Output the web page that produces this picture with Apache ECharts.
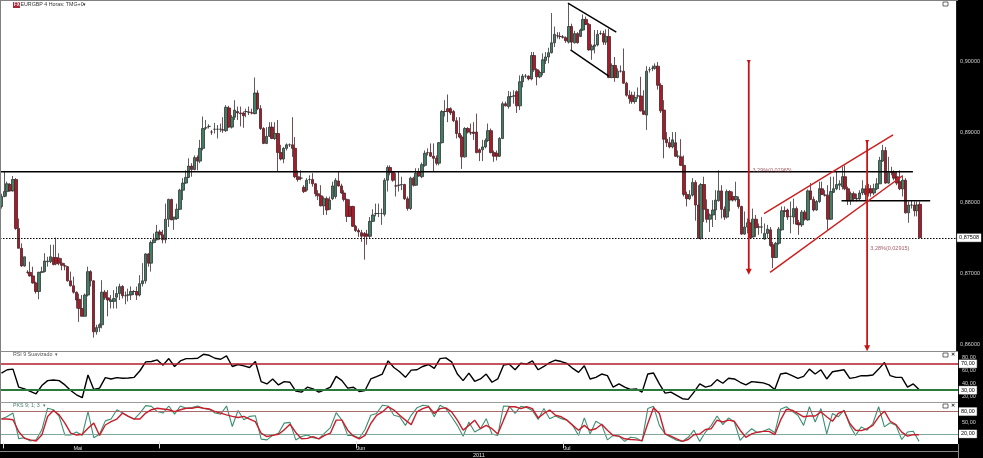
<!DOCTYPE html>
<html><head><meta charset="utf-8">
<style>html,body{margin:0;padding:0;background:#000}#c{width:983px;height:458px}</style>
<script src="https://cdn.jsdelivr.net/npm/echarts@6/dist/echarts.min.js"></script>
</head><body><div id="c"></div>
<script>
// EUR/GBP 4h candles: [open, close, low, high] in 1/10000 of a pound
const ohlc = [
[8795,8809,8792,8813],[8809,8816,8808,8844],[8816,8827,8809,8830],[8826,8817,8816,8828],[8817,8833,8816,8838],[8833,8764,8762,8835],[8764,8736,8736,8778],[8736,8711,8710,8743],[8711,8724,8710,8724],[8702,8702,8700,8705],
[8702,8697,8696,8717],[8697,8687,8686,8710],[8687,8675,8672,8689],[8675,8702,8664,8703],[8702,8703,8701,8710],[8703,8718,8702,8729],[8717,8718,8710,8724],[8717,8724,8715,8741],[8723,8713,8712,8741],[8723,8714,8712,8751],
[8722,8715,8712,8729],[8715,8712,8705,8722],[8711,8711,8705,8715],[8710,8690,8689,8711],[8690,8683,8682,8703],[8683,8674,8672,8696],[8674,8663,8651,8675],[8664,8651,8632,8672],[8651,8640,8640,8670],[8640,8670,8640,8672],
[8670,8703,8668,8710],[8703,8690,8682,8705],[8690,8618,8610,8691],[8618,8624,8614,8628],[8624,8628,8618,8630],[8628,8674,8623,8691],[8674,8666,8663,8677],[8666,8663,8640,8677],[8661,8663,8651,8670],[8661,8665,8651,8677],
[8667,8672,8651,8682],[8672,8682,8663,8686],[8682,8669,8665,8684],[8669,8669,8657,8675],[8670,8670,8661,8679],[8670,8675,8663,8682],[8675,8675,8670,8677],[8675,8670,8663,8682],[8670,8686,8668,8698],[8686,8690,8682,8715],
[8690,8728,8686,8729],[8728,8715,8710,8729],[8715,8744,8703,8747],[8744,8748,8743,8757],[8748,8759,8747,8769],[8759,8755,8748,8762],[8755,8748,8743,8762],[8748,8777,8743,8799],[8777,8805,8766,8806],[8805,8776,8776,8806],
[8777,8780,8762,8780],[8778,8791,8776,8799],[8791,8818,8790,8820],[8818,8828,8804,8835],[8828,8836,8827,8846],[8836,8852,8835,8863],[8852,8847,8837,8856],[8847,8864,8846,8867],[8864,8859,8846,8867],[8859,8877,8856,8889],
[8877,8905,8874,8922],[8906,8906,8903,8917],[8908,8908,8905,8911],[8900,8900,8896,8903],[8904,8904,8898,8913],[8904,8904,8891,8910],[8904,8904,8900,8912],[8903,8903,8899,8921],[8902,8935,8900,8938],[8934,8907,8906,8937],
[8907,8921,8905,8924],[8921,8931,8917,8945],[8929,8927,8917,8936],[8927,8926,8908,8936],[8927,8923,8906,8929],[8929,8929,8921,8933],[8928,8928,8924,8936],[8927,8927,8925,8933],[8926,8955,8925,8977],[8955,8933,8931,8959],
[8933,8905,8903,8938],[8905,8884,8883,8907],[8884,8894,8883,8907],[8894,8907,8893,8914],[8907,8891,8890,8914],[8891,8898,8889,8914],[8898,8871,8845,8917],[8871,8862,8860,8882],[8862,8877,8856,8879],[8877,8882,8874,8884],
[8882,8882,8879,8884],[8882,8877,8865,8921],[8877,8837,8835,8893],[8837,8833,8830,8846],[8835,8835,8832,8846],[8822,8816,8814,8825],[8818,8832,8816,8835],[8833,8833,8827,8839],[8833,8827,8823,8842],[8827,8813,8809,8828],
[8813,8810,8804,8818],[8810,8796,8795,8825],[8796,8806,8783,8809],[8806,8790,8783,8809],[8791,8804,8790,8809],[8806,8824,8804,8830],[8809,8832,8806,8835],[8831,8824,8823,8844],[8824,8814,8813,8827],[8814,8805,8802,8818],
[8805,8781,8773,8806],[8795,8781,8780,8805],[8795,8767,8766,8796],[8767,8761,8759,8769],[8761,8759,8752,8764],[8758,8753,8745,8762],[8757,8753,8720,8759],[8756,8753,8741,8762],[8753,8774,8749,8780],[8774,8783,8773,8791],
[8785,8785,8781,8799],[8785,8785,8780,8799],[8785,8785,8769,8792],[8784,8832,8781,8835],[8832,8850,8816,8853],[8850,8843,8839,8853],[8843,8832,8830,8844],[8824,8824,8809,8842],[8825,8825,8816,8844],[8826,8826,8818,8837],
[8826,8806,8804,8827],[8806,8792,8789,8809],[8792,8835,8790,8837],[8835,8825,8823,8837],[8825,8842,8824,8849],[8844,8838,8837,8849],[8837,8854,8835,8857],[8853,8870,8851,8874],[8871,8871,8867,8877],[8871,8866,8865,8884],
[8866,8863,8845,8884],[8863,8856,8853,8867],[8856,8885,8853,8886],[8885,8929,8884,8931],[8929,8929,8922,8945],[8933,8929,8914,8953],[8933,8927,8924,8935],[8929,8916,8914,8931],[8916,8898,8891,8921],[8898,8893,8891,8921],
[8893,8865,8848,8896],[8865,8905,8864,8907],[8905,8900,8898,8907],[8899,8899,8896,8912],[8900,8898,8889,8914],[8900,8871,8870,8926],[8875,8871,8859,8877],[8875,8879,8859,8889],[8879,8888,8877,8891],[8888,8902,8886,8912],
[8902,8871,8870,8905],[8871,8866,8858,8874],[8870,8866,8860,8874],[8866,8891,8865,8893],[8891,8940,8890,8943],[8940,8937,8936,8943],[8936,8950,8933,8958],[8950,8950,8936,8957],[8951,8951,8940,8959],[8957,8937,8927,8959],
[8937,8971,8931,8980],[8971,8979,8963,8982],[8979,8979,8976,8982],[8979,8975,8973,8980],[8975,9008,8973,9013],[9008,8988,8985,9013],[8988,8978,8966,8990],[8978,8984,8976,8987],[8984,9002,8980,9011],[9001,9006,8996,9013],
[9006,9012,8997,9019],[9012,9026,9011,9068],[9026,9038,9020,9049],[9036,9036,9032,9041],[9035,9035,9031,9041],[9034,9034,9032,9037],[9033,9029,9026,9035],[9027,9049,9025,9082],[9049,9027,9016,9053],[9026,9039,9025,9043],
[9039,9026,9025,9041],[9035,9044,9034,9046],[9044,9059,9043,9066],[9059,9052,9051,9063],[9052,9016,9015,9054],[9016,9021,9002,9024],[9021,9023,9011,9044],[9023,9038,9021,9044],[9039,9039,9037,9043],[9039,9027,9023,9043],
[9027,9035,9023,9045],[9035,8977,8976,9046],[8977,8994,8976,8997],[8994,8977,8971,9006],[8977,8986,8976,8990],[8986,8986,8984,8994],[8986,8969,8968,9018],[8969,8952,8950,8971],[8952,8947,8940,8959],[8952,8943,8940,8957],
[8943,8949,8940,8957],[8951,8951,8947,8963],[8951,8930,8929,8978],[8930,8925,8924,8959],[8924,8986,8903,8993],[8988,8988,8984,8992],[8990,8990,8986,8994],[8990,8993,8988,8997],[8993,8966,8960,8999],[8966,8930,8927,8969],
[8931,8890,8863,8945],[8890,8885,8879,8900],[8885,8879,8877,8893],[8879,8889,8877,8900],[8885,8866,8865,8900],[8866,8866,8863,8874],[8865,8853,8852,8890],[8853,8812,8809,8867],[8812,8806,8795,8816],[8806,8811,8804,8818],
[8811,8829,8809,8835],[8829,8797,8775,8832],[8797,8750,8750,8825],[8750,8826,8748,8828],[8826,8791,8773,8837],[8791,8777,8772,8805],[8777,8783,8759,8785],[8783,8790,8766,8804],[8790,8804,8776,8818],[8803,8817,8802,8846],
[8817,8791,8778,8825],[8791,8780,8776,8795],[8780,8816,8778,8819],[8816,8804,8788,8818],[8809,8804,8802,8816],[8805,8809,8802,8830],[8805,8795,8792,8809],[8795,8756,8755,8796],[8756,8766,8755,8788],[8766,8772,8757,8778],
[8772,8751,8750,8776],[8752,8777,8751,8792],[8777,8765,8752,8783],[8766,8766,8755,8771],[8766,8766,8757,8780],[8749,8757,8748,8771],[8757,8763,8750,8769],[8762,8740,8738,8766],[8741,8723,8708,8745],[8723,8743,8722,8745],
[8743,8763,8741,8766],[8762,8789,8761,8795],[8789,8788,8780,8795],[8790,8780,8776,8792],[8781,8781,8757,8802],[8780,8792,8770,8806],[8792,8770,8769,8795],[8772,8769,8755,8776],[8769,8787,8766,8790],[8787,8777,8775,8790],
[8776,8817,8775,8819],[8817,8805,8804,8828],[8805,8790,8788,8809],[8790,8802,8789,8804],[8802,8820,8800,8830],[8820,8812,8811,8830],[8811,8811,8809,8818],[8811,8777,8762,8825],[8777,8816,8776,8837],[8815,8820,8814,8837],
[8820,8826,8818,8844],[8825,8827,8818,8832],[8823,8837,8819,8851],[8837,8820,8818,8853],[8820,8803,8797,8823],[8803,8813,8797,8816],[8813,8806,8802,8816],[8806,8806,8802,8813],[8806,8814,8804,8818],[8814,8820,8811,8832],
[8820,8812,8804,8825],[8820,8814,8809,8827],[8820,8814,8809,8825],[8814,8820,8811,8827],[8820,8827,8818,8835],[8827,8860,8827,8865],[8859,8874,8858,8882],[8874,8828,8827,8879],[8828,8843,8827,8865],[8843,8843,8839,8851],
[8843,8835,8832,8846],[8837,8828,8825,8844],[8830,8820,8818,8846],[8820,8832,8809,8839],[8832,8786,8785,8835],[8786,8797,8772,8802],[8797,8797,8792,8804],[8797,8789,8781,8802],[8789,8797,8781,8802],[8798,8751,8751,8802]
];
// indicators read every second bar
const sampleStep = 2;
const rsi = [56,61,62,34.5,32,28,24.5,37,44.5,45.5,44.5,38,29.5,23,18.5,53,31,33,49,47,49,48,48.5,49.5,59.5,73,73.5,76,68,78,66,74.5,78,78,78.5,84.5,83,78.5,77,82,66,69,67,64.5,73.5,43,39.5,47,38,43,42,28.5,27,34.5,32,27,30.5,34.5,
51,44.5,33,34.5,28,29.5,47,50.5,54.5,74.5,64.5,58,49.5,60.5,61,66,69,63,78,79,73,54.5,44.5,56,43.5,47,54.5,42,47,68,69.5,61,71,69.5,74.5,61,66,72,75.5,73.5,70.5,63,57,67,47,49.5,54.5,52,34.5,39.5,34.5,31,32,27,54.5,56,39.5,
25.5,27,22,17,16,27,39.5,34.5,37,46,40.5,48,47,42,38,43,42,41,38,31,54.5,56,52,48,51,62,54.5,61,47,58,59.5,61,48,49.5,52,52,53,62,72,52,49.5,49.5,34.5,39.5,31];
const stochK = [60,67,76,7,10,1,4,31,89,85,67,17,17,25,16,80,10,19,55,60,85,76,67,60,76,96,94,80,76,95,73,95,89,91,95,89,86,76,73,95,40,83,58,67,69,6,4,16,22,49,51,4,13,17,10,7,22,37,
77,57,16,16,9,32,70,75,97,95,70,66,43,70,90,97,95,66,97,88,66,43,14,52,25,34,61,20,16,95,94,75,94,91,83,59,88,61,68,61,57,43,16,63,20,54,45,4,16,14,0,11,9,0,88,94,43,
20,11,3,0,11,30,0,25,43,68,45,63,52,3,20,34,23,27,34,23,86,93,81,70,43,93,52,88,20,75,66,84,43,16,39,30,48,93,39,50,43,5,25,27,0];
const stochD = [60,60,58,26,8,4,1,17,67,83,71,49,22,17,19,35,49,16,44,53,60,76,67,60,60,76,85,89,87,85,80,85,89,89,92,89,87,80,76,71,67,64,67,60,53,22,13,16,19,31,46,24,7,8,13,7,16,22,
57,57,30,14,7,16,48,70,79,93,84,70,57,45,79,88,93,75,88,90,79,57,30,43,57,34,43,34,20,57,93,93,88,93,88,63,75,84,70,66,57,43,30,43,30,34,46,30,16,14,7,5,4,2,48,90,75,
20,14,7,0,5,18,20,32,34,57,52,57,54,30,11,20,25,27,27,18,57,86,84,75,66,68,68,79,66,54,75,82,48,30,29,34,43,66,81,54,45,25,14,18,18];
const rsiLevels = [70, 30], stochLevels = [80, 20];
const lastPrice = 0.87508;
const priceTicks = [0.90, 0.89, 0.88, 0.87, 0.86];
const rsiTicks = [80, 60, 40, 20], stochTicks = [50];
const monthLabels = ['Mai', 'Jun', 'Jul'], monthLabelBars = [26.5, 124.6, 196], monthTickBars = [0.5, 54.6, 123, 194.6];
const barSlots = 332;
// drawn annotations, as [bar, price]
const resistance = [[-0.5,0.8844],[316.5,0.8844]];
const supportShort = [[291.7,0.8803],[322.5,0.8803]];
const flagTop = [[196.7,0.9082],[213.5,0.9041]], flagBottom = [[197.6,0.9016],[210.9,0.8979]];
const channelTop = [[264.8,0.8785],[309.6,0.8896]], channelBottom = [[266.9,0.8702],[312.8,0.8838]];
const moveA = [[259.5,0.8999],[259.5,0.8703]], moveB = [[300.6,0.8886],[300.6,0.8595]];
const moveNotes = [[260.8,0.8846,'3,29%(0,02965)'],[301.7,0.8735,'3,28%(0,02915)']];

const FONT = '"Liberation Sans",Arial,sans-serif';
const comma = (v, d) => v.toFixed(d).replace('.', ',');
const sampled = a => a.map((v, i) => [i * sampleStep, v]);
const GRID_W = 958;
const hiddenX = g => ({type:'value', gridIndex:g, min:-0.5, max:barSlots-0.5, show:false});
const line = (data, color, width) => ({type:'line', xAxisIndex:1, yAxisIndex:0, data, symbol:'none', silent:true, z:5,
  lineStyle:{color, width}});
const arrow = (pts, color) => ({type:'line', xAxisIndex:1, yAxisIndex:0, silent:true, z:6, showSymbol:true, lineStyle:{color, width:1.8},
  itemStyle:{color},
  data:[{value:pts[0],symbol:'triangle',symbolRotate:180,symbolSize:4},{value:pts[1],symbol:'triangle',symbolRotate:180,symbolSize:6}]});
const tag = (color) => ({show:true, position:'end', distance:1, color:'#000', backgroundColor:'#fff', borderColor:'#555', borderWidth:0.5,
  padding:[1,2], fontSize:5.5, fontFamily:FONT});
const levelLines = (levels, colors, widths, fmt) => ({silent:true, symbol:'none', animation:false,
  data:levels.map((v,i)=>({yAxis:v, lineStyle:{color:colors[i], width:widths[i], type:'solid'},
    label:Object.assign(tag(), {formatter:fmt(v)})}))});
const axisText = {color:'#d0d0d0', fontSize:5.5, fontFamily:FONT, margin:4};

const resistanceSeries = line(resistance,'#000',1.6);
resistanceSeries.markLine = {silent:true, symbol:'none', precision:5, data:[{yAxis:lastPrice, lineStyle:{color:'#000', width:1, type:[1.5,1.5]},
  label:Object.assign(tag(),{formatter:comma(lastPrice,5)})}]};

const chart = echarts.init(document.getElementById('c'), null, {renderer:'canvas'});
chart.setOption({
  animation:false, backgroundColor:'#000',
  grid:[
    {left:0, top:1, width:GRID_W, height:350, show:true, backgroundColor:'#fff', borderWidth:0},
    {left:0, top:352, width:GRID_W, height:50, show:true, backgroundColor:'#fff', borderWidth:0},
    {left:0, top:403, width:GRID_W, height:41, show:true, backgroundColor:'#fff', borderWidth:0}
  ],
  xAxis:[
    {type:'category', gridIndex:0, data:Array.from({length:barSlots},(_,i)=>String(i)), show:false},
    hiddenX(0), hiddenX(1),
    {type:'value', gridIndex:2, min:-0.5, max:barSlots-0.5, position:'bottom', splitLine:{show:false}, axisLine:{show:false},
     axisTick:{show:true, length:7, customValues:monthTickBars, lineStyle:{color:'#ddd', width:1}},
     axisLabel:{show:true, customValues:monthLabelBars, color:'#e0e0e0', fontSize:5.5, fontFamily:FONT, margin:1,
       formatter:v=>monthLabels[monthLabelBars.indexOf(v)]}}
  ],
  yAxis:[
    {type:'value', gridIndex:0, position:'right', min:0.8591, max:0.9085, scale:true, splitLine:{show:false}, axisLine:{show:false}, axisTick:{show:false},
     axisLabel:Object.assign({customValues:priceTicks, formatter:v=>comma(v,5)}, axisText)},
    {type:'value', gridIndex:1, position:'right', min:12, max:88, splitLine:{show:false}, axisLine:{show:false}, axisTick:{show:false},
     axisLabel:Object.assign({customValues:rsiTicks, formatter:v=>comma(v,2)}, axisText)},
    {type:'value', gridIndex:2, position:'right', min:-7, max:103, splitLine:{show:false}, axisLine:{show:false}, axisTick:{show:false},
     axisLabel:Object.assign({customValues:stochTicks, formatter:v=>comma(v,2)}, axisText)}
  ],
  series:[
    {type:'candlestick', xAxisIndex:0, yAxisIndex:0, barWidth:3, silent:true, z:3,
     data:ohlc.map(r=>r.map(v=>v/10000)),
     itemStyle:{color:'#3f7f66', color0:'#a81c2a', borderColor:'#333', borderColor0:'#4a2228', borderWidth:0.8}},
    resistanceSeries, line(supportShort,'#000',1.6),
    line(flagTop,'#000',1.4), line(flagBottom,'#000',1.4),
    line(channelTop,'#cc1f1f',1.5), line(channelBottom,'#cc1f1f',1.5),
    arrow(moveA,'#c81414'), arrow(moveB,'#c81414'),
    {type:'scatter', xAxisIndex:1, yAxisIndex:0, silent:true, symbolSize:0, z:7,
     data:moveNotes.map(n=>({value:[n[0],n[1]], label:{show:true, position:'right', distance:0, formatter:n[2], color:'#8a3340', fontSize:5.5, fontFamily:FONT}}))},
    {type:'line', xAxisIndex:2, yAxisIndex:1, data:sampled(rsi), symbol:'none', silent:true, z:4, lineStyle:{color:'#000', width:1.4},
     markLine:levelLines(rsiLevels,['#b01c28','#2b7a3c'],[1.5,2],v=>comma(v,2))},
    {type:'line', xAxisIndex:3, yAxisIndex:2, data:sampled(stochK), symbol:'none', silent:true, z:4, lineStyle:{color:'#3d8f72', width:1.1},
     markLine:levelLines(stochLevels,['#a86a6a','#7fa898'],[1,1],v=>comma(v,2))},
    {type:'line', xAxisIndex:3, yAxisIndex:2, data:sampled(stochD), symbol:'none', silent:true, z:5, lineStyle:{color:'#c81e2c', width:1.4}}
  ],
  graphic:[
    {type:'rect', shape:{x:0,y:0,width:GRID_W,height:1}, style:{fill:'#808080'}, z:50},
    {type:'rect', shape:{x:0,y:0,width:1,height:444}, style:{fill:'#808080'}, z:50},
    {type:'rect', shape:{x:0,y:351,width:GRID_W,height:1}, style:{fill:'#8a8a8a'}, z:50},
    {type:'rect', shape:{x:0,y:402,width:GRID_W,height:1}, style:{fill:'#9a9a9a'}, z:50},
    {type:'rect', shape:{x:0,y:451,width:GRID_W,height:1}, style:{fill:'#8a8a8a'}, z:50},
    {type:'rect', shape:{x:958,y:444,width:1,height:14}, style:{fill:'#8a8a8a'}, z:50},
    {type:'rect', shape:{x:13,y:2,width:7,height:6}, style:{fill:'#a8283a'}, z:50},
    {type:'text', style:{x:14,y:2.5,text:'FX',fill:'#fff',font:'bold 4.5px '+FONT}, z:51},
    {type:'text', style:{x:20.5,y:2.5,text:'EURGBP 4 Horas: TMG+0',fill:'#333',font:'5.3px '+FONT}, z:51},
    {type:'text', style:{x:83,y:2,text:'▾',fill:'#333',font:'5px '+FONT}, z:51},
    {type:'text', style:{x:13,y:352.5,text:'RSI 9 Suavizado  ▾',fill:'#555',font:'5.3px '+FONT}, z:51},
    {type:'text', style:{x:13,y:403.5,text:'PKS 9; 1; 3  ▾',fill:'#4a7f6a',font:'5.3px '+FONT}, z:51},
    {type:'text', style:{x:473,y:452,text:'2011',fill:'#e0e0e0',font:'5.5px '+FONT}, z:51},
    ...[[943,2],[943,353],[943,404]].map(p=>({type:'rect', shape:{x:p[0],y:p[1],width:5,height:4}, style:{fill:'#fff',stroke:'#444',lineWidth:0.8}, z:51})),
    {type:'text', style:{x:951,y:352,text:'✕',fill:'#222',font:'bold 5px '+FONT}, z:51},
    {type:'text', style:{x:951,y:403,text:'✕',fill:'#222',font:'bold 5px '+FONT}, z:51}
  ]
});
</script></body></html>
